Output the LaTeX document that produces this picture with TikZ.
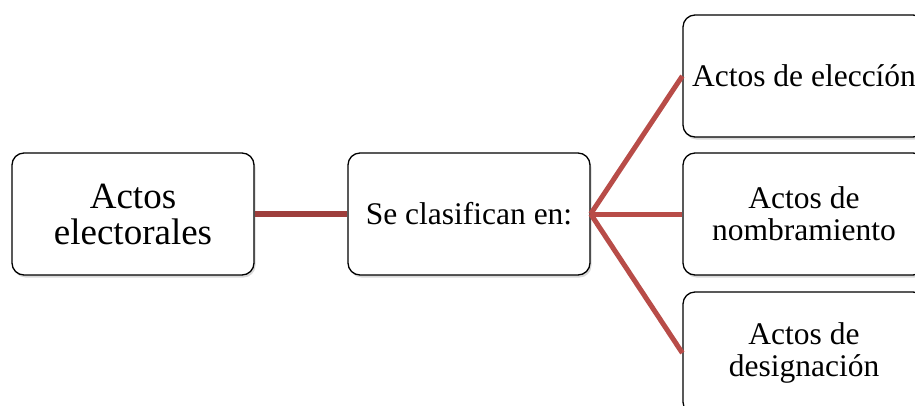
\documentclass[tikz,border=0pt]{standalone}
\usepackage{fontspec}
\setmainfont{Liberation Serif}
\usetikzlibrary{shadows}
\definecolor{linkA}{RGB}{158,62,60}
\definecolor{linkB}{RGB}{184,76,72}
\begin{document}
\begin{tikzpicture}[x=1pt,y=-1pt,
  box/.style={draw=black, line width=1.3pt, rounded corners=12pt, fill=white,
    minimum width=242pt, minimum height=122pt, inner sep=0pt, align=center,
    drop shadow={shadow xshift=1.5pt,shadow yshift=-2.5pt,opacity=0.3}},
  big/.style={font=\fontsize{37}{36}\selectfont},
  mid/.style={font=\fontsize{31.5}{32}\selectfont},
  linkL/.style={draw=linkA, line width=6pt},
  linkR/.style={draw=linkB, line width=5pt}]
\useasboundingbox (0,0) rectangle (915,405);
\clip (0,0) rectangle (915,405);
\node[box, big] (ae) at (133,214) {Actos\\electorales};
\node[box, mid] (sc) at (469,214) {Se clasifican en:};
\node[box, mid] (el) at (804,76) {Actos de eleccíón};
\node[box, mid] (no) at (804,214) {Actos de\\nombramiento};
\node[box, mid] (de) at (804,353) {Actos de\\designación};
\draw[linkL] (ae.east) -- (sc.west);
\draw[linkR] (sc.east) -- (el.west);
\draw[linkR] (sc.east) -- (no.west);
\draw[linkR] (sc.east) -- (de.west);
\end{tikzpicture}
\end{document}
